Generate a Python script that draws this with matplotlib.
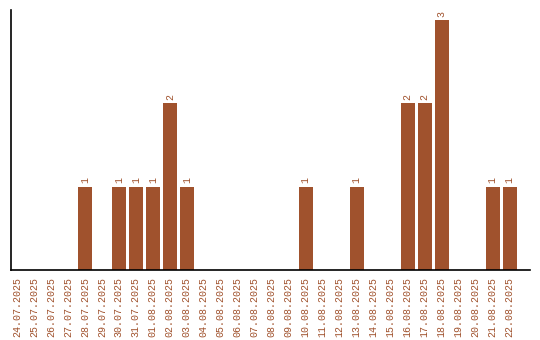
import matplotlib
matplotlib.use("Agg")
import matplotlib.pyplot as plt
import numpy as np

dates = ["24.07.2025", "25.07.2025", "26.07.2025", "27.07.2025", "28.07.2025",
         "29.07.2025", "30.07.2025", "31.07.2025", "01.08.2025", "02.08.2025",
         "03.08.2025", "04.08.2025", "05.08.2025", "06.08.2025", "07.08.2025",
         "08.08.2025", "09.08.2025", "10.08.2025", "11.08.2025", "12.08.2025",
         "13.08.2025", "14.08.2025", "15.08.2025", "16.08.2025", "17.08.2025",
         "18.08.2025", "19.08.2025", "20.08.2025", "21.08.2025", "22.08.2025"]
counts = [0, 0, 0, 0, 1, 0, 1, 1, 1, 2, 1, 0, 0, 0, 0, 0, 0, 1, 0, 0,
          1, 0, 0, 2, 2, 3, 0, 0, 1, 1]

color = "#a0522d"
mono = ["Liberation Mono", "DejaVu Sans Mono"]

fig = plt.figure(figsize=(5.4, 3.4), dpi=100)
ax = fig.add_axes([11 / 540, 70 / 340, 519 / 540, 260 / 340])

x = np.arange(len(dates))
ax.bar(x, counts, width=0.82, color=color)
for xi, c in zip(x, counts):
    if c > 0:
        ax.text(xi, c + 0.04, str(c), rotation=90, ha="center", va="bottom",
                fontsize=7.2, color=color, family=mono)

ax.set_xlim(-0.35, 30.2)
ax.set_ylim(0, 3.12)
ax.set_xticks(x)
ax.set_xticklabels(dates, rotation=90, fontsize=7.2, color=color, family=mono)
ax.set_yticks([])
ax.tick_params(axis="x", length=0, pad=5)
for s in ("top", "right"):
    ax.spines[s].set_visible(False)
for s in ("left", "bottom"):
    ax.spines[s].set_linewidth(1.2)

fig.savefig("out.png", dpi=100)
